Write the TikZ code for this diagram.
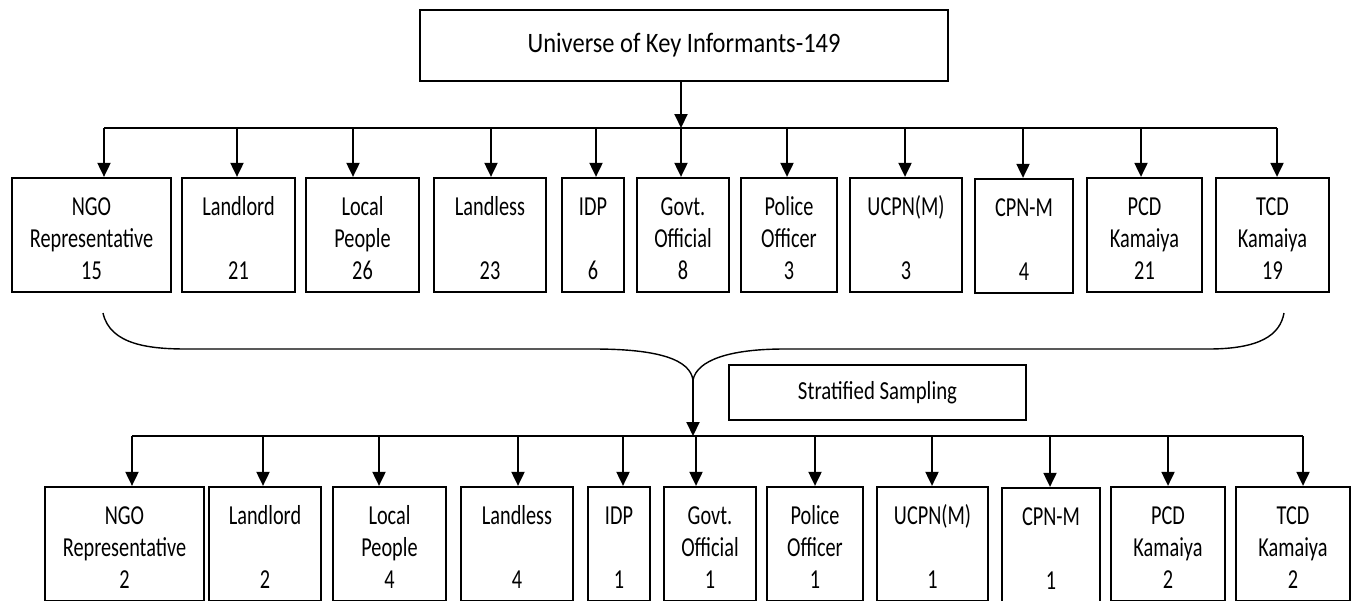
\documentclass[tikz,border=0pt]{standalone}
\usepackage{fontspec}
\setmainfont{Carlito}
\usepackage{graphicx}
\usetikzlibrary{arrows.meta}

\newcommand{\info}[3]{\raisebox{-0.12cm}[\height][\depth]{\scalebox{0.74}[1]{\begin{tabular}{@{}c@{}}#1\\#2\\#3\end{tabular}}}}

\begin{document}
\begin{tikzpicture}[x=0.02cm,y=-0.02cm,>={Triangle[width=0.26cm,length=0.28cm]},box node/.style={rectangle,draw,line width=1.3pt,inner sep=0pt,minimum height=2.28cm,font=\fontsize{15.6}{18.2}\selectfont},arr/.style={->,line width=1.1pt},bus/.style={line width=1.6pt}]
  \useasboundingbox (0,0) rectangle (1351,600);

  \node[box node,minimum width=10.56cm,minimum height=1.42cm,font=\fontsize{16}{19}\selectfont] (top) at (684,45.5) {\scalebox{0.87}[1]{Universe of Key Informants-149}};

  % first row
  \node[box node,minimum width=3.18cm] (t1) at (91.5,235) {\info{NGO}{Representative}{15}};
  \node[box node,minimum width=2.26cm] (t2) at (238.5,235) {\info{Landlord}{}{21}};
  \node[box node,minimum width=2.26cm] (t3) at (362.5,235) {\info{Local}{People}{26}};
  \node[box node,minimum width=2.24cm] (t4) at (490,235) {\info{Landless}{}{23}};
  \node[box node,minimum width=1.24cm] (t5) at (593,235) {\info{IDP}{}{6}};
  \node[box node,minimum width=1.84cm] (t6) at (683,235) {\info{Govt.}{Official}{8}};
  \node[box node,minimum width=1.92cm] (t7) at (789,235) {\info{Police}{Officer}{3}};
  \node[box node,minimum width=2.24cm] (t8) at (906,235) {\info{UCPN(M)}{}{3}};
  \node[box node,minimum width=1.96cm] (t9) at (1024,236) {\info{CPN-M}{}{4}};
  \node[box node,minimum width=2.3cm] (t10) at (1144.5,235) {\info{PCD}{Kamaiya}{21}};
  \node[box node,minimum width=2.26cm] (t11) at (1272.5,235) {\info{TCD}{Kamaiya}{19}};

  \coordinate (h0) at (681,128);
  \coordinate (h1) at (104,128);
  \coordinate (h2) at (237,128);
  \coordinate (h3) at (353,128);
  \coordinate (h4) at (491,128);
  \coordinate (h5) at (596,128);
  \coordinate (h6) at (681,128);
  \coordinate (h7) at (787,128);
  \coordinate (h8) at (905,128);
  \coordinate (h9) at (1023,128);
  \coordinate (h10) at (1141,128);
  \coordinate (h11) at (1277,128);

  \draw[bus] (h1) -- (h11);
  \draw[arr] (top.south -| h0) -- (h0);
  \draw[arr] (h1) -- (h1 |- t1.north);
  \draw[arr] (h2) -- (h2 |- t2.north);
  \draw[arr] (h3) -- (h3 |- t3.north);
  \draw[arr] (h4) -- (h4 |- t4.north);
  \draw[arr] (h5) -- (h5 |- t5.north);
  \draw[arr] (h6) -- (h6 |- t6.north);
  \draw[arr] (h7) -- (h7 |- t7.north);
  \draw[arr] (h8) -- (h8 |- t8.north);
  \draw[arr] (h9) -- (h9 |- t9.north);
  \draw[arr] (h10) -- (h10 |- t10.north);
  \draw[arr] (h11) -- (h11 |- t11.north);

  % brace
  \coordinate (tip) at (693,380);
  \draw[line width=0.8pt] (103,313) .. controls (110,345) and (150,349) .. (187,349) -- (594,349) .. controls (660,349) and (690,360) .. (tip) .. controls (697,360) and (730,349) .. (784,349) -- (1208,349) .. controls (1260,349) and (1280,335) .. (1284,313);

  \node[box node,minimum width=5.94cm,minimum height=1.1cm,font=\fontsize{14.8}{18}\selectfont] (strat) at (877.5,392.5) {\scalebox{0.8}[1]{Stratified Sampling}};

  % second row
  \node[box node,minimum width=3.18cm] (s1) at (124.5,544) {\info{NGO}{Representative}{2}};
  \node[box node,minimum width=2.24cm] (s2) at (265,544) {\info{Landlord}{}{2}};
  \node[box node,minimum width=2.26cm] (s3) at (389.5,544) {\info{Local}{People}{4}};
  \node[box node,minimum width=2.24cm] (s4) at (517,544) {\info{Landless}{}{4}};
  \node[box node,minimum width=1.24cm] (s5) at (619,544) {\info{IDP}{}{1}};
  \node[box node,minimum width=1.84cm] (s6) at (710,544) {\info{Govt.}{Official}{1}};
  \node[box node,minimum width=1.92cm] (s7) at (815,544) {\info{Police}{Officer}{1}};
  \node[box node,minimum width=2.22cm] (s8) at (932.5,544) {\info{UCPN(M)}{}{1}};
  \node[box node,minimum width=1.96cm] (s9) at (1051,545) {\info{CPN-M}{}{1}};
  \node[box node,minimum width=2.28cm] (s10) at (1168,544) {\info{PCD}{Kamaiya}{2}};
  \node[box node,minimum width=2.28cm] (s11) at (1293,544) {\info{TCD}{Kamaiya}{2}};

  \coordinate (g0) at (693,436);
  \coordinate (g1) at (132,436);
  \coordinate (g2) at (263,436);
  \coordinate (g3) at (379,436);
  \coordinate (g4) at (518,436);
  \coordinate (g5) at (623,436);
  \coordinate (g6) at (696,436);
  \coordinate (g7) at (815,436);
  \coordinate (g8) at (932,436);
  \coordinate (g9) at (1050,436);
  \coordinate (g10) at (1168,436);
  \coordinate (g11) at (1303,436);

  \draw[bus] (g1) -- (g11);
  \draw[arr] (tip) -- (g0);
  \draw[arr] (g1) -- (g1 |- s1.north);
  \draw[arr] (g2) -- (g2 |- s2.north);
  \draw[arr] (g3) -- (g3 |- s3.north);
  \draw[arr] (g4) -- (g4 |- s4.north);
  \draw[arr] (g5) -- (g5 |- s5.north);
  \draw[arr] (g6) -- (g6 |- s6.north);
  \draw[arr] (g7) -- (g7 |- s7.north);
  \draw[arr] (g8) -- (g8 |- s8.north);
  \draw[arr] (g9) -- (g9 |- s9.north);
  \draw[arr] (g10) -- (g10 |- s10.north);
  \draw[arr] (g11) -- (g11 |- s11.north);
\end{tikzpicture}
\end{document}
